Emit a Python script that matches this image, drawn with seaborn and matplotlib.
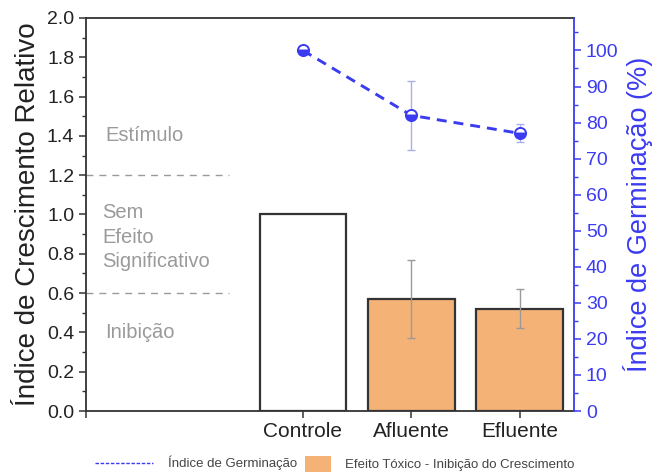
import numpy as np
import pandas as pd
import matplotlib
matplotlib.use("Agg")
import matplotlib.pyplot as plt
from matplotlib.lines import Line2D
from matplotlib.patches import Patch
from matplotlib.ticker import MultipleLocator, FormatStrFormatter
import seaborn as sns

# Dados
amostras = ["Controle", "Afluente", "Efluente"]
icr = [1.00, 0.57, 0.52]          # índice de crescimento relativo
icr_erro = [0.0, 0.20, 0.10]
ig = [100.0, 82.0, 77.0]          # índice de germinação (%)
ig_erro = [0.0, 9.5, 2.5]
limiares = [0.6, 1.2]
zonas = ["Estímulo", "Sem\nEfeito\nSignificativo", "Inibição"]

sns.set_theme(style="ticks")
plt.rcParams["font.family"] = ["Liberation Sans", "DejaVu Sans"]

AZUL = "#3b3bf2"
AZUL_CLARO = "#aab0e6"
LARANJA = "#f5b277"
CINZA = "#9a9a9a"
ESCURO = "#333333"
TEXTO = "#222222"

df = pd.DataFrame({"amostra": amostras, "icr": icr, "erro": icr_erro,
                   "ig": ig, "ig_erro": ig_erro})
pos = np.arange(len(amostras))

fig = plt.figure(figsize=(6.53, 4.73), dpi=100)
ax = fig.add_axes([86 / 653, 62 / 473, 488 / 653, 393 / 473])

# Barras do índice de crescimento relativo
sns.barplot(data=df, x="amostra", y="icr", hue="amostra",
            palette=["white", LARANJA, LARANJA], saturation=1, edgecolor=ESCURO,
            linewidth=1.6, width=0.8, errorbar=None, legend=False,
            ax=ax, zorder=2)
com_erro = df["erro"] > 0
ax.errorbar(pos[com_erro], df.loc[com_erro, "icr"], yerr=df.loc[com_erro, "erro"],
            fmt="none", ecolor=CINZA, elinewidth=1, capsize=3, capthick=1, zorder=3)

ax.set_xlim(-2.0, 2.5)
ax.set_ylim(0, 2.0)
ax.yaxis.set_major_locator(MultipleLocator(0.2))
ax.yaxis.set_minor_locator(MultipleLocator(0.1))
ax.yaxis.set_major_formatter(FormatStrFormatter("%.1f"))
ax.set_xticks([-2, *pos], ["", *amostras])
ax.set_xlabel("")
ax.set_ylabel("Índice de Crescimento Relativo", fontsize=20, color=TEXTO, labelpad=4)

# Faixas de efeito
for y in limiares:
    ax.plot([-2.0, -0.68], [y, y], color=CINZA, lw=1.0, ls=(0, (5, 4.3)), zorder=1)
ax.text(-1.82, 1.40, zonas[0], ha="left", va="center", fontsize=14.5, color=CINZA)
ax.text(-1.85, 0.885, zonas[1], ha="left", va="center", fontsize=14.5,
        color=CINZA, linespacing=1.38)
ax.text(-1.82, 0.40, zonas[2], ha="left", va="center", fontsize=14.5, color=CINZA)

for lado in ["top", "bottom", "left"]:
    ax.spines[lado].set_color(ESCURO)
    ax.spines[lado].set_linewidth(1.3)
ax.spines["right"].set_visible(False)
ax.tick_params(axis="y", which="major", direction="out", length=5, width=1.1,
               color=ESCURO, labelsize=14, labelcolor=TEXTO)
ax.tick_params(axis="y", which="minor", direction="out", length=3, width=1.0, color=ESCURO)
ax.tick_params(axis="x", direction="out", length=5, width=1.1, color=ESCURO,
               labelsize=15, labelcolor=TEXTO, pad=3)

# Índice de germinação no eixo secundário
ax2 = ax.twinx()
ax2.errorbar(pos[com_erro], df.loc[com_erro, "ig"], yerr=df.loc[com_erro, "ig_erro"],
             fmt="none", ecolor=AZUL_CLARO, elinewidth=1, capsize=3, capthick=1, zorder=2)
sns.lineplot(x=pos, y=df["ig"], ax=ax2, color=AZUL, lw=2.1,
             linestyle=(0, (3.4, 2.4)), marker="o", markersize=8,
             markeredgewidth=1.4, zorder=4)
# marcadores semipreenchidos (metade inferior azul, superior branca)
linha = ax2.lines[-1]
linha.set_fillstyle("bottom")
linha.set_markerfacecolor(AZUL)
linha.set_markerfacecoloralt("white")
linha.set_markeredgecolor(AZUL)

ax2.set_ylim(0, 109)
ax2.yaxis.set_minor_locator(MultipleLocator(5))
ax2.set_yticks(np.arange(0, 101, 10))
ax2.set_ylabel("Índice de Germinação (%)", fontsize=19.5, color=AZUL, labelpad=3)
for lado in ["top", "bottom", "left"]:
    ax2.spines[lado].set_visible(False)
ax2.spines["right"].set_color(AZUL)
ax2.spines["right"].set_linewidth(1.3)
ax2.tick_params(axis="y", which="major", direction="out", length=5, width=1.1,
                color=AZUL, labelsize=14, labelcolor=AZUL)
ax2.tick_params(axis="y", which="minor", direction="out", length=3, width=1.0, color=AZUL)

# Legenda
h1 = Line2D([], [], color=AZUL, lw=1.0, linestyle=(0, (2.5, 1.2)))
fig.legend(handles=[h1], labels=["Índice de Germinação"], loc="center left",
           bbox_to_anchor=(95 / 653, 10 / 473), frameon=False, fontsize=9.5,
           handlelength=4.4, handletextpad=1.1, borderpad=0, borderaxespad=0,
           labelcolor="#444444")
h2 = Patch(facecolor=LARANJA, edgecolor="none")
fig.legend(handles=[h2], labels=["Efeito Tóxico - Inibição do Crescimento"],
           loc="center left", bbox_to_anchor=(305 / 653, 9 / 473), frameon=False,
           fontsize=9.5, handlelength=2.0, handleheight=1.6, handletextpad=1.0,
           borderpad=0, borderaxespad=0, labelcolor="#444444")

fig.savefig("out.png", dpi=100)
